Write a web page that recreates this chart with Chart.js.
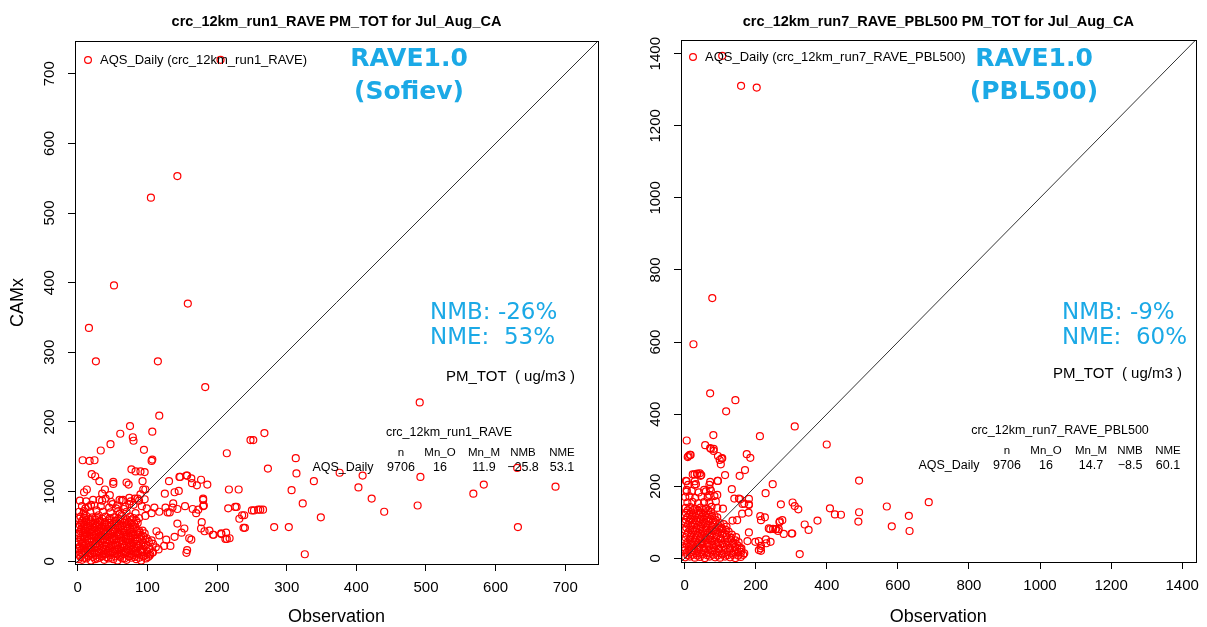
<!DOCTYPE html>
<html>
<head>
<meta charset="utf-8">
<script src="https://cdn.jsdelivr.net/npm/chart.js@4.4.1/dist/chart.umd.min.js"></script>
<style>
    body { margin: 0; background: #fff; }
    #wrap { position: relative; width: 1207px; height: 627px; }
    canvas { position: absolute; top: 0; }
</style>
</head>
<body>
<div id="wrap">
    <canvas id="leftChart" width="610" height="627" style="left:0px"></canvas>
    <canvas id="rightChart" width="597" height="627" style="left:610px"></canvas>
</div>
<script>
// scattered points (observation, CAMx)
let run1Sparse = [
    [205,720],[143,553],[105,522],[52,396],[158,370],[16,335],[26,287],[115,287],[183,250],[117,209],[491,228],
    [75,194],[61,183],[107,186],[79,178],[80,173],[47,168],[33,159],[95,160],[107,146],[106,144],[7,145],[17,144],[24,145],
    [214,155],[313,148],[273,133],[252,174],[268,184],[314,126],[339,115],[376,127],[409,123],[492,121],[631,134],
    [568,97],[583,110],[686,107],[632,49],[488,80],[440,71],[422,90],[403,106],[323,83],[307,102],[349,63],[303,49],[326,10],[282,49],
    [217,103],[231,103],[216,76],[228,78],[232,61],[239,66],[240,48],[213,41],[214,32],[206,40],[194,38],[182,43],[178,56],[171,109],
    [157,123],[177,117],[163,119],[253,73],[262,74],[266,74],[157,16],[146,121],[136,77],[139,99],[131,115],[180,88],[181,80],[173,74],
    [163,31],[153,47],[143,54],[129,70],
    [20,125],[25,122],[31,115],[51,114],[51,111],[39,103],[35,97],[13,103],[9,99],[77,132],[83,129],[90,129],[96,128],[70,113],[73,110],
    [93,115],[94,103],[97,103],[86,90],[74,91],[63,87],[46,95],[40,90],[31,88],[19,81],[11,76],[8,68],
    [125,97],[145,101],[147,121],[156,123],[164,112],[186,110],[180,90],[180,79],[170,69],[165,75],[154,79],[143,75],[137,83],
    [132,70],[126,77],[117,71],[110,77],[106,69],[99,76],[96,89],
    [248,174],[226,78],[236,66],[250,73],[259,74],[238,48],[218,33],[212,32],[206,39],[195,38],[189,44],[177,47],
    [156,12],[160,33],[149,41],[139,35],[133,22],[124,22],[127,31],[117,37],[113,43],[103,8],[91,14]
];

// the dense blob near the origin, left panel
let run1Cluster = [
    [1,3],[6,2],[12,4],[19,1],[25,3],[31,5],[38,2],[44,4],[51,3],[57,1],[64,4],[70,2],[77,5],[84,3],[91,1],[98,4],
    [4,6],[9,5],[16,7],[22,6],[28,4],[35,7],[41,6],[48,5],[54,7],[61,6],[67,4],[74,7],[81,6],[88,5],[94,7],[101,6],
    [2,9],[8,10],[15,8],[21,11],[27,9],[34,7],[40,10],[47,9],[53,11],[60,8],[66,10],[73,7],[80,9],[87,11],[95,8],[104,10],
    [5,12],[11,13],[18,11],[24,12],[31,13],[37,11],[44,12],[50,13],[57,11],[63,12],[70,13],[77,11],[84,12],[92,13],[100,11],[107,12],
    [0,15],[5,16],[11,14],[17,17],[24,15],[30,13],[37,16],[43,15],[50,14],[56,17],[63,15],[69,13],[76,16],[83,14],[90,16],[99,15],[108,13],
    [2,18],[8,19],[14,17],[20,18],[27,19],[33,17],[40,18],[46,19],[53,17],[59,18],[66,19],[72,17],[79,18],[86,19],[93,17],[103,18],[116,17],
    [3,21],[9,22],[16,20],[22,23],[28,21],[35,19],[41,22],[48,21],[54,23],[61,20],[67,22],[74,21],[81,19],[88,22],[96,21],[112,20],
    [0,24],[6,25],[12,24],[19,23],[25,25],[31,24],[38,23],[44,25],[51,24],[57,23],[64,25],[71,24],[77,23],[84,25],[91,24],[98,23],[108,25],
    [1,28],[7,27],[13,29],[20,28],[26,26],[33,29],[39,27],[46,28],[52,30],[59,27],[65,29],[72,28],[79,26],[86,29],[94,27],[102,28],
    [4,31],[10,32],[16,31],[23,30],[29,32],[36,31],[42,30],[49,32],[55,31],[62,30],[69,32],[75,31],[82,30],[89,32],[97,31],[106,30],
    [4,34],[10,35],[17,33],[23,36],[30,34],[36,32],[43,35],[49,34],[56,36],[62,33],[69,35],[76,34],[83,32],[91,35],[99,33],
    [1,37],[7,38],[13,36],[20,37],[26,38],[33,36],[39,37],[46,38],[52,36],[59,37],[65,38],[72,36],[79,37],[86,38],[94,36],
    [2,40],[8,41],[14,39],[21,42],[27,40],[34,38],[40,41],[47,40],[53,42],[60,39],[67,41],[74,40],[82,38],[89,41],[96,40],
    [4,43],[11,44],[17,42],[24,43],[30,44],[37,42],[43,43],[50,44],[57,42],[63,43],[70,44],[77,42],[85,43],[93,44],
    [5,46],[11,47],[18,45],[24,48],[31,46],[37,44],[44,47],[51,46],[58,48],[65,45],[72,47],[80,46],[88,44],
    [1,49],[8,50],[14,48],[21,49],[27,50],[34,48],[40,49],[47,50],[54,48],[61,49],[68,50],[75,48],[83,49],
    [3,52],[9,53],[15,51],[22,54],[28,52],[35,50],[42,53],[49,52],[56,54],[63,51],[71,53],[79,52],[86,55],
    [5,55],[12,56],[18,54],[25,55],[31,56],[38,54],[45,55],[52,56],[59,54],[66,55],[73,56],[81,54],
    [6,58],[12,59],[19,57],[25,60],[32,58],[39,56],[46,59],[54,58],[61,60],[68,57],[76,59],[84,58],
    [2,61],[9,62],[16,60],[28,62],[35,61],[46,62],[58,61],[70,60],[80,62],
    [4,64],[12,65],[21,63],[30,66],[40,64],[52,63],[63,66],[75,64],[88,62],[97,65],
    [60,68],[66,75],[74,82],[82,90],[90,96],[55,76],[50,82],[65,88],
    [2,71],[9,72],[18,70],[27,73],[36,71],[47,70],[58,72],[70,71],[83,69],
    [6,79],[15,78],[24,80],[33,79],[45,77],[57,80],[68,78],[80,81],[92,79],
    [3,87],[12,86],[22,88],[35,87],[48,85],[60,88],[76,86],[88,87]
];

// scattered points, right panel
let run7Sparse = [
    [106,1394],[159,1311],[203,1306],[78,722],[25,594],[72,458],[143,439],[117,408],
    [310,366],[400,316],[212,339],[81,342],[6,327],[58,314],[72,306],[82,304],[9,281],[15,287],[104,277],[102,261],[94,284],
    [175,289],[185,279],[170,245],[155,229],[114,231],[28,233],[36,235],[45,229],[29,214],[6,214],[6,190],[93,215],[133,192],[72,212],[71,193],[55,190],
    [248,206],[228,181],[271,150],[304,155],[310,145],[320,136],[157,164],[181,165],[181,150],[168,152],[153,166],[163,151],[140,166],
    [213,117],[226,114],[215,106],[237,83],[249,82],[257,81],[265,81],[279,68],[301,69],[267,100],[324,12],
    [229,53],[209,48],[214,28],[209,23],[199,46],[181,72],[177,48],[155,30],[159,18],[135,105],[148,106],[162,124],[180,127],[181,148],
    [491,216],[409,139],[423,122],[440,121],[569,144],[687,156],[631,118],[491,128],[489,102],[583,89],[633,76],[374,105],[338,94],[349,79],[268,103],[275,106],
    [241,81],[256,81],[263,76],[303,69],[215,35],[215,21],[230,42],[242,46],[74,304],[82,298],[106,278],[99,273],[11,284],[17,287],
    [23,233],[35,234],[43,236],[47,231],[4,215],[10,204],[28,204],[32,206],[70,204],[94,215],[74,188],[92,176],[70,176]
];

let run7Cluster = [
    [2,3],[15,5],[29,2],[43,4],[57,1],[71,5],[86,3],[100,2],[114,5],[128,3],[143,1],[158,4],
    [8,9],[22,10],[36,8],[50,11],[64,9],[79,10],[93,8],[107,11],[121,9],[136,10],[151,8],[165,10],
    [6,16],[20,18],[34,14],[48,17],[62,15],[77,19],[91,16],[105,14],[120,18],[135,15],[150,17],[168,14],
    [1,23],[13,24],[27,22],[41,25],[55,23],[70,24],[84,22],[98,25],[113,23],[128,24],[143,22],[159,24],
    [1,30],[13,32],[27,28],[41,31],[55,29],[69,33],[83,30],[97,28],[112,32],[127,29],[142,31],[160,28],
    [6,37],[20,38],[34,36],[48,39],[62,37],[76,38],[90,36],[104,39],[119,37],[134,38],[149,36],
    [8,44],[22,46],[36,42],[50,45],[64,43],[78,47],[93,44],[107,42],[122,46],[137,43],[152,45],
    [1,51],[15,52],[29,50],[43,53],[57,51],[71,52],[85,50],[100,53],[114,51],[129,52],[143,50],
    [3,58],[17,60],[31,56],[45,59],[59,57],[73,61],[88,58],[102,56],[117,60],[131,57],[145,59],
    [6,65],[20,66],[34,64],[48,67],[62,65],[77,66],[91,64],[105,67],[119,65],[133,66],
    [10,72],[24,74],[38,70],[52,73],[66,71],[81,75],[95,72],[110,70],[124,74],
    [2,79],[16,80],[30,78],[44,81],[59,79],[73,80],[88,78],[102,81],[116,79],
    [5,86],[19,88],[33,84],[47,87],[61,85],[76,89],[90,86],[105,84],[118,88],
    [9,93],[23,94],[37,92],[51,95],[65,93],[80,94],[95,92],[110,95],
    [2,100],[14,102],[28,98],[42,101],[56,99],[70,103],[85,100],[99,98],
    [4,107],[18,108],[32,106],[46,109],[60,107],[74,108],[88,106],
    [8,114],[22,116],[36,112],[50,115],[64,113],[78,117],[92,114],
    [1,120],[14,121],[28,119],[42,122],[56,120],[70,121],[84,119],
    [4,126],[18,128],[32,124],[46,127],[60,125],[74,129],
    [9,133],[24,134],[38,132],[53,135],[67,133],
    [3,140],[16,142],[30,138],[45,141],[60,139],[76,143],[92,140],[108,138],
    [8,155],[22,157],[38,153],[55,156],[70,154],[88,158],
    [2,170],[14,172],[30,168],[48,171],[65,169],[84,173],
    [6,185],[20,187],[40,183],[60,186]
];

let statHeaders = ['n', 'Mn_O', 'Mn_M', 'NMB', 'NME'];
let run1Stats = ['9706', '16', '11.9', '\u221225.8', '53.1'];
let run7Stats = ['9706', '16', '14.7', '\u22128.5', '60.1'];

const BLUE = '#1ba9e6';
const SANS = '"Liberation Sans", Arial, sans-serif';
const DEJAVU = '"DejaVu Sans", sans-serif';

function drawText(ctx, str, x, y, font, color, align, rot) {
    ctx.save();
    ctx.font = font;
    ctx.fillStyle = color || '#000';
    ctx.textAlign = align || 'center';
    ctx.textBaseline = 'middle';
    ctx.translate(x, y);
    if (rot) ctx.rotate(rot);
    ctx.fillText(str, 0, 0);
    ctx.restore();
}

// box, titles, legend and the text notes on each panel
const panelText = {
    id: 'panelText',
    afterDraw(chart, args, o) {
        const ctx = chart.ctx;
        const a = chart.chartArea;
        ctx.save();
        ctx.strokeStyle = '#000';
        ctx.lineWidth = 1;
        ctx.strokeRect(Math.round(a.left) + 0.5, Math.round(a.top) + 0.5,
            Math.round(a.right - a.left), Math.round(a.bottom - a.top));
        ctx.restore();

        const cx = (a.left + a.right) / 2;
        drawText(ctx, o.title, cx, 22, 'bold 14.5px ' + SANS);
        drawText(ctx, 'Observation', cx, 617, '18px ' + SANS);
        if (o.yTitle) drawText(ctx, o.yTitle, 18, (a.top + a.bottom) / 2, '18px ' + SANS, '#000', 'center', -Math.PI / 2);

        // legend
        ctx.save();
        ctx.beginPath();
        ctx.arc(o.legendAt[0], o.legendAt[1], 3.4, 0, Math.PI * 2);
        ctx.strokeStyle = '#ff0000';
        ctx.lineWidth = 1.2;
        ctx.stroke();
        ctx.restore();
        drawText(ctx, o.legendText, o.legendAt[0] + 12, o.legendAt[1], '13px ' + SANS, '#000', 'left');

        // blue notes
        drawText(ctx, 'RAVE1.0', o.bigX, 59, 'bold 25px ' + DEJAVU, BLUE);
        drawText(ctx, o.subTitle, o.bigX, 92, 'bold 25px ' + DEJAVU, BLUE);
        drawText(ctx, o.nmb, o.nmbX, 313, '23px ' + DEJAVU, BLUE, 'left');
        drawText(ctx, o.nme, o.nmbX, 338, '23px ' + DEJAVU, BLUE, 'left');

        drawText(ctx, 'PM_TOT  ( ug/m3 )', o.unitAt[0], o.unitAt[1], '15px ' + SANS, '#000', 'left');

        // stats table
        const t = o.table;
        drawText(ctx, o.runName, t.titleX, t.y, '12.5px ' + SANS);
        drawText(ctx, 'AQS_Daily', t.rowLabelX, t.y + 35, '12.5px ' + SANS);
        for (let i = 0; i < statHeaders.length; i++) {
            drawText(ctx, statHeaders[i], t.cols[i], t.y + 20, '11.5px ' + SANS);
            drawText(ctx, o.stats[i], t.cols[i], t.y + 35, '12.5px ' + SANS);
        }
    }
};

function makePanel(canvasId, points, range, step, layout, notes) {
    const ctx = document.getElementById(canvasId).getContext('2d');
    const tickFont = { family: SANS, size: 15 };
    return new Chart(ctx, {
        type: 'scatter',
        data: {
            datasets: [{
                // 1:1 line
                type: 'line',
                data: [{ x: range[0], y: range[0] }, { x: range[1], y: range[1] }],
                borderColor: '#333',
                borderWidth: 1,
                pointRadius: 0,
                showLine: true,
                fill: false
            }, {
                data: points.map(p => ({ x: p[0], y: p[1] })),
                borderColor: '#ff0000',
                backgroundColor: 'rgba(0,0,0,0)',
                borderWidth: 1.2,
                pointRadius: 3.5
            }]
        },
        options: {
            responsive: false,
            animation: false,
            events: [],
            layout: { padding: { top: layout.top, right: layout.right, left: 0, bottom: 0 } },
            scales: {
                x: {
                    type: 'linear',
                    min: range[0],
                    max: range[1],
                    afterFit: s => { s.height = layout.xH; },
                    border: { display: true, color: '#000' },
                    grid: { drawOnChartArea: false, drawTicks: true, tickLength: 7, color: '#000' },
                    ticks: { stepSize: step, includeBounds: false, autoSkip: false, maxRotation: 0,
                        callback: v => String(v),
                        color: '#000', font: tickFont, padding: 8 }
                },
                y: {
                    type: 'linear',
                    min: range[0],
                    max: range[1],
                    afterFit: s => { s.width = layout.yW; },
                    border: { display: true, color: '#000' },
                    grid: { drawOnChartArea: false, drawTicks: true, tickLength: 7, color: '#000' },
                    ticks: { stepSize: step, includeBounds: false, autoSkip: false,
                        minRotation: 90, maxRotation: 90, crossAlign: 'center',
                        callback: v => String(v),
                        color: '#000', font: tickFont, padding: layout.yPad }
                }
            },
            plugins: {
                legend: { display: false },
                tooltip: { enabled: false },
                panelText: notes
            }
        },
        plugins: [panelText]
    });
}

makePanel('leftChart', run1Sparse.concat(run1Cluster), [-4, 747], 100,
    { top: 41, right: 12, xH: 63, yW: 75, yPad: 5.5 },
    {
        title: 'crc_12km_run1_RAVE PM_TOT for Jul_Aug_CA',
        yTitle: 'CAMx',
        legendAt: [88, 60],
        legendText: 'AQS_Daily (crc_12km_run1_RAVE)',
        bigX: 409,
        subTitle: '(Sofiev)',
        nmbX: 430,
        nmb: 'NMB: -26%',
        nme: 'NME:  53%',
        unitAt: [446, 377],
        runName: 'crc_12km_run1_RAVE',
        stats: run1Stats,
        table: { titleX: 449, y: 433, rowLabelX: 343, cols: [401, 440, 484, 523, 562] }
    });

makePanel('rightChart', run7Sparse.concat(run7Cluster), [-10, 1438], 200,
    { top: 40, right: 5, xH: 65, yW: 71, yPad: 1.3 },
    {
        title: 'crc_12km_run7_RAVE_PBL500 PM_TOT for Jul_Aug_CA',
        yTitle: null,
        legendAt: [83, 57],
        legendText: 'AQS_Daily (crc_12km_run7_RAVE_PBL500)',
        bigX: 424,
        subTitle: '(PBL500)',
        nmbX: 452,
        nmb: 'NMB: -9%',
        nme: 'NME:  60%',
        unitAt: [443, 374],
        runName: 'crc_12km_run7_RAVE_PBL500',
        stats: run7Stats,
        table: { titleX: 450, y: 431, rowLabelX: 339, cols: [397, 436, 481, 520, 558] }
    });
</script>
</body>
</html>
